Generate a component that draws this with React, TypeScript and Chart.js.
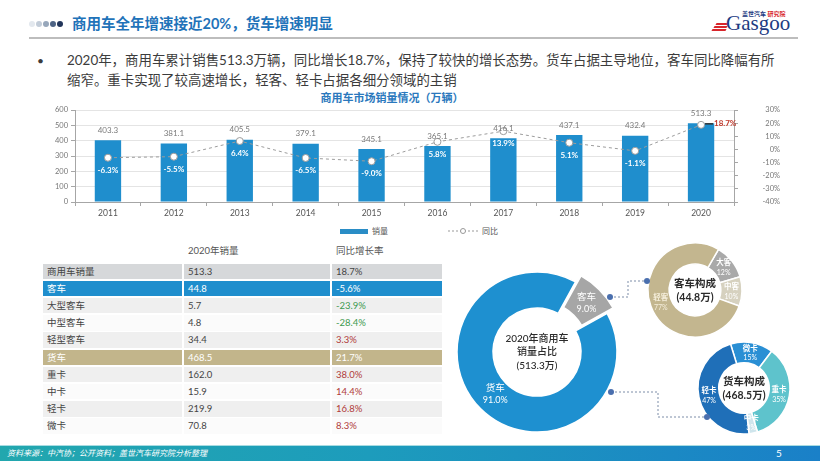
import React, { useEffect, useRef } from 'react';
import { Chart, registerables } from 'chart.js';

Chart.register(...registerables);

const FONT = 'Lato, "Noto Sans CJK SC", sans-serif';

// ---------- data ----------
const years = ['2011', '2012', '2013', '2014', '2015', '2016', '2017', '2018', '2019', '2020'];
const salesVolume = [403.3, 381.1, 405.5, 379.1, 345.1, 365.1, 416.1, 437.1, 432.4, 513.3];
const yoyGrowth = [-6.3, -5.5, 6.4, -6.5, -9.0, 5.8, 13.9, 5.1, -1.1, 18.7];
const volumeTickValues = [0, 100, 200, 300, 400, 500, 600];
const growthTickValues = [-40, -30, -20, -10, 0, 10, 20, 30];

const tableHeaders = ['2020年销量', '同比增长率'];
const tableCategories = ['商用车销量', '客车', '大型客车', '中型客车', '轻型客车', '货车', '重卡', '中卡', '轻卡', '微卡'];
const tableVolumes = [513.3, 44.8, 5.7, 4.8, 34.4, 468.5, 162.0, 15.9, 219.9, 70.8];
const tableGrowth = [18.7, -5.6, -23.9, -28.4, 3.3, 21.7, 38.0, 14.4, 16.8, 8.3];

const shareLabels = ['货车', '客车'];
const shareValues = [91.0, 9.0];
const busLabels = ['大客', '中客', '轻客'];
const busShares = [12, 10, 77];
const truckLabels = ['微卡', '重卡', '中卡', '轻卡'];
const truckShares = [15, 35, 3, 47];

// ---------- styles ----------
const BAR_BLUE = '#1f8ecd';
const AXIS_GRAY = '#a6a6a6';
const headerDots = ['#e3e8ee', '#c2ccd8', '#97a7bb', '#4d6384', '#22355a'];

function ComboChart() {
  const ref = useRef<HTMLCanvasElement>(null);
  useEffect(() => {
    const labelPlugin = {
      id: 'comboLabels',
      afterDatasetsDraw(chart: any) {
        const ctx = chart.ctx;
        const barMeta = chart.getDatasetMeta(1);
        const lineMeta = chart.getDatasetMeta(0);
        ctx.save();
        ctx.textAlign = 'center';
        ctx.textBaseline = 'middle';
        ctx.font = `8px ${FONT}`;
        ctx.fillStyle = '#7a7a7a';
        barMeta.data.forEach((b: any, i: number) => {
          ctx.fillText(salesVolume[i].toFixed(1), b.x, b.y - 10);
        });
        lineMeta.data.forEach((pt: any, i: number) => {
          const t = yoyGrowth[i].toFixed(1) + '%';
          if (i === yoyGrowth.length - 1) {
            ctx.strokeStyle = '#333';
            ctx.lineWidth = 1.5;
            ctx.beginPath();
            ctx.moveTo(pt.x + 4, pt.y - 1);
            ctx.lineTo(pt.x + 12, pt.y - 1);
            ctx.stroke();
            ctx.font = `bold 8px ${FONT}`;
            ctx.fillStyle = '#c0392b';
            ctx.textAlign = 'left';
            ctx.fillText(t, pt.x + 13, pt.y - 1);
            ctx.textAlign = 'center';
          } else {
            ctx.font = `bold 8px ${FONT}`;
            ctx.fillStyle = '#ffffff';
            ctx.fillText(t, pt.x, pt.y + 12.5);
          }
        });
        ctx.restore();
      },
    };
    const chart = new Chart(ref.current as HTMLCanvasElement, {
      type: 'bar',
      data: {
        labels: years,
        datasets: [
          {
            type: 'line',
            label: '同比',
            data: yoyGrowth,
            yAxisID: 'y1',
            borderColor: '#9c9c9c',
            borderWidth: 1,
            borderDash: [3, 3],
            pointRadius: 3.5,
            pointBackgroundColor: '#ffffff',
            pointBorderColor: '#9c9c9c',
            pointBorderWidth: 1,
            tension: 0,
            order: 1,
          } as any,
          {
            type: 'bar',
            label: '销量',
            data: salesVolume,
            yAxisID: 'y',
            backgroundColor: BAR_BLUE,
            barPercentage: 0.4,
            categoryPercentage: 1,
            order: 2,
          } as any,
        ],
      },
      options: {
        responsive: false,
        animation: false,
        events: [],
        layout: { padding: { top: 8, left: 0, right: 0, bottom: 0 } },
        plugins: { legend: { display: false }, tooltip: { enabled: false } },
        scales: {
          x: {
            grid: { offset: true, drawOnChartArea: false, drawTicks: true, tickLength: 4, color: AXIS_GRAY },
            border: { color: AXIS_GRAY },
            ticks: { font: { size: 8.5, family: FONT }, color: '#555', padding: 2 },
            afterFit: (s: any) => { s.height = 20; },
          },
          y: {
            position: 'left',
            min: volumeTickValues[0],
            max: volumeTickValues[volumeTickValues.length - 1],
            afterBuildTicks: (s: any) => { s.ticks = volumeTickValues.map((v) => ({ value: v })); },
            ticks: { font: { size: 7.5, family: FONT }, color: '#777', padding: 3 },
            grid: { color: '#e4e4e4', tickLength: 4, tickColor: AXIS_GRAY },
            border: { color: AXIS_GRAY },
            afterFit: (s: any) => { s.width = 55; },
          },
          y1: {
            position: 'right',
            min: growthTickValues[0],
            max: growthTickValues[growthTickValues.length - 1],
            afterBuildTicks: (s: any) => { s.ticks = growthTickValues.map((v) => ({ value: v })); },
            ticks: {
              font: { size: 7.5, family: FONT },
              color: '#777',
              padding: 3,
              crossAlign: 'far',
              callback: (v: any) => `${v}%`,
            },
            grid: { drawOnChartArea: false, tickLength: 4, color: AXIS_GRAY },
            border: { color: AXIS_GRAY },
            afterFit: (s: any) => { s.width = 46; },
          },
        },
      } as any,
      plugins: [labelPlugin],
    });
    return () => chart.destroy();
  }, []);
  return (
    <canvas
      ref={ref}
      width={760}
      height={120}
      style={{ position: 'absolute', left: 20, top: 102, width: 760, height: 120 }}
    />
  );
}

type DProps = {
  left: number;
  top: number;
  size: number;
  radius: number;
  cutout: string;
  labels: string[];
  values: number[];
  colors: string[];
  rotation: number;
  offsets?: number[];
  labelShift?: number[];
  labelColors: string[];
  fontSize: number;
  pctFontSize: number;
  bold: boolean;
  fmt: (v: number) => string;
};

function Doughnut(p: DProps) {
  const ref = useRef<HTMLCanvasElement>(null);
  useEffect(() => {
    const plugin = {
      id: 'sliceLabels',
      afterDatasetsDraw(chart: any) {
        const ctx = chart.ctx;
        const meta = chart.getDatasetMeta(0);
        ctx.save();
        ctx.textAlign = 'center';
        ctx.textBaseline = 'middle';
        meta.data.forEach((arc: any, i: number) => {
          const { startAngle, endAngle, innerRadius, outerRadius, x, y } = arc.getProps(
            ['startAngle', 'endAngle', 'innerRadius', 'outerRadius', 'x', 'y'],
            true
          );
          const mid = (startAngle + endAngle) / 2;
          const r = (innerRadius + outerRadius) / 2 + (p.labelShift ? p.labelShift[i] : 0);
          const cx = x + Math.cos(mid) * r;
          const cy = y + Math.sin(mid) * r;
          ctx.fillStyle = p.labelColors[i];
          ctx.font = `${p.bold ? 'bold ' : ''}${p.fontSize}px ${FONT}`;
          ctx.fillText(p.labels[i], cx, cy - p.fontSize * 0.62);
          ctx.font = `${p.pctFontSize}px ${FONT}`;
          ctx.fillText(p.fmt(p.values[i]), cx, cy + p.fontSize * 0.68);
        });
        ctx.restore();
      },
    };
    const chart = new Chart(ref.current as HTMLCanvasElement, {
      type: 'doughnut',
      data: {
        labels: p.labels,
        datasets: [
          {
            data: p.values,
            backgroundColor: p.colors,
            borderColor: '#ffffff',
            borderWidth: 1.5,
            offset: p.offsets || 0,
          } as any,
        ],
      },
      options: {
        responsive: false,
        animation: false,
        events: [],
        radius: p.radius,
        cutout: p.cutout,
        rotation: p.rotation,
        layout: { padding: 0 },
        plugins: { legend: { display: false }, tooltip: { enabled: false } },
      } as any,
      plugins: [plugin],
    });
    return () => chart.destroy();
  }, []);
  return (
    <canvas
      ref={ref}
      width={p.size}
      height={p.size}
      style={{ position: 'absolute', left: p.left, top: p.top, width: p.size, height: p.size }}
    />
  );
}

function CenterText({ x, y, lines, size, lh, weight }: { x: number; y: number; lines: string[]; size: number; lh: number; weight: number }) {
  const h = lines.length * lh;
  return (
    <div
      style={{
        position: 'absolute',
        left: x - 50,
        top: y - h / 2,
        width: 100,
        textAlign: 'center',
        fontSize: size,
        lineHeight: `${lh}px`,
        color: '#2b2b2b',
        fontWeight: weight,
        whiteSpace: 'nowrap',
      }}
    >
      {lines.map((l, i) => (
        <div key={i}>{l}</div>
      ))}
    </div>
  );
}

function Table() {
  const top0 = 263.5;
  const pitch = 17.2;
  const cols = [
    { left: 43, width: 139 },
    { left: 184, width: 146 },
    { left: 332, width: 110 },
  ];
  const rowBg = (i: number) => {
    if (i === 0) return '#d6d8da';
    if (i === 1) return BAR_BLUE;
    if (i === 5) return '#c2b58b';
    return i % 2 === 0 ? '#efefef' : '#fbfbfb';
  };
  const textColor = (i: number, c: number) => {
    if (i === 1 || i === 5) return '#ffffff';
    if (c === 2 && i !== 0) return tableGrowth[i] < 0 ? '#3d9a50' : '#b03a3a';
    return '#444';
  };
  return (
    <>
      <div style={{ position: 'absolute', left: cols[1].left + 4, top: 244, fontSize: 9.5, lineHeight: '14px', color: '#555' }}>
        {tableHeaders[0]}
      </div>
      <div style={{ position: 'absolute', left: cols[2].left + 4, top: 244, fontSize: 9.5, lineHeight: '14px', color: '#555' }}>
        {tableHeaders[1]}
      </div>
      {tableCategories.map((cat, i) => {
        const cells = [cat, tableVolumes[i].toFixed(1), tableGrowth[i].toFixed(1) + '%'];
        return cells.map((txt, c) => (
          <div
            key={`${i}-${c}`}
            style={{
              position: 'absolute',
              left: cols[c].left,
              top: top0 + i * pitch,
              width: cols[c].width,
              height: 15.5,
              background: rowBg(i),
              color: textColor(i, c),
              fontSize: 9.5,
              lineHeight: '15.5px',
              paddingLeft: 4,
              boxSizing: 'border-box',
              whiteSpace: 'nowrap',
            }}
          >
            {txt}
          </div>
        ));
      })}
    </>
  );
}

export default function App() {
  return (
    <div
      style={{
        position: 'absolute',
        left: 0,
        top: 0,
        width: 820,
        height: 461,
        overflow: 'hidden',
        background: '#ffffff',
        fontFamily: FONT,
      }}
    >
      {/* header dots */}
      {headerDots.map((c, i) => (
        <div
          key={i}
          style={{ position: 'absolute', left: 29 + i * 7, top: 21, width: 6, height: 6, borderRadius: 3, background: c }}
        />
      ))}
      <div style={{ position: 'absolute', left: 72, top: 14, fontSize: 14.5, lineHeight: '20px', fontWeight: 700, color: '#1f73b9', whiteSpace: 'nowrap' }}>
        商用车全年增速接近20%，货车增速明显
      </div>
      <div style={{ position: 'absolute', left: 29, top: 37, width: 769, height: 2, background: '#bdbdbd' }} />

      {/* logo */}
      <div style={{ position: 'absolute', left: 716, top: 23, width: 12, height: 2, background: '#d8262b', transform: 'skewX(-30deg)' }} />
      <div style={{ position: 'absolute', left: 714, top: 26, width: 13, height: 2, background: '#d8262b', transform: 'skewX(-30deg)' }} />
      <div style={{ position: 'absolute', left: 712, top: 29, width: 14, height: 2, background: '#d8262b', transform: 'skewX(-30deg)' }} />
      <div style={{ position: 'absolute', left: 742, top: 10, fontSize: 6, lineHeight: '8px', color: '#1d3b82', fontWeight: 700, whiteSpace: 'nowrap' }}>
        盖世汽车 <span style={{ color: '#d8262b' }}>研究院</span>
      </div>
      <div style={{ position: 'absolute', left: 726, top: 12, fontSize: 21, lineHeight: '22px', color: '#1d3b82', fontFamily: '"Liberation Serif", "DejaVu Serif", serif', whiteSpace: 'nowrap' }}>
        Gasgoo
      </div>

      {/* bullet text */}
      <div style={{ position: 'absolute', left: 37, top: 51, fontSize: 12, lineHeight: '20px', color: '#3c3c3c' }}>•</div>
      <div style={{ position: 'absolute', left: 67, top: 51, fontSize: 13.45, lineHeight: '19.5px', color: '#3c3c3c', whiteSpace: 'nowrap' }}>
        2020年，商用车累计销售513.3万辆，同比增长18.7%，保持了较快的增长态势。货车占据主导地位，客车同比降幅有所
        <br />
        缩窄。重卡实现了较高速增长，轻客、轻卡占据各细分领域的主销
      </div>

      {/* chart title */}
      <div style={{ position: 'absolute', left: 292, top: 91, width: 200, textAlign: 'center', fontSize: 11, lineHeight: '14px', fontWeight: 700, color: '#2a78bd', whiteSpace: 'nowrap' }}>
        商用车市场销量情况（万辆）
      </div>

      <ComboChart />

      {/* legend */}
      <div style={{ position: 'absolute', left: 340, top: 229, width: 28, height: 5, background: '#2a8dc6' }} />
      <div style={{ position: 'absolute', left: 372, top: 225, fontSize: 8, lineHeight: '12px', color: '#555' }}>销量</div>
      <svg style={{ position: 'absolute', left: 446, top: 226 }} width={34} height={10}>
        <line x1={2} y1={5} x2={32} y2={5} stroke="#999" strokeWidth={1} strokeDasharray="2 2" />
        <circle cx={17} cy={5} r={2.5} fill="#fff" stroke="#999" strokeWidth={1} />
      </svg>
      <div style={{ position: 'absolute', left: 482, top: 225, fontSize: 8, lineHeight: '12px', color: '#555' }}>同比</div>

      <Table />

      {/* doughnuts */}
      <Doughnut
        left={437}
        top={252}
        size={200}
        radius={80}
        cutout="55%"
        labels={shareLabels}
        values={shareValues}
        colors={['#1e90d0', '#a6a6a6']}
        rotation={61.2}
        offsets={[0, 22]}
        labelShift={[-3, 8]}
        labelColors={['#ffffff', '#ffffff']}
        fontSize={9.5}
        pctFontSize={9}
        bold={false}
        fmt={(v) => v.toFixed(1) + '%'}
      />
      <Doughnut
        left={640}
        top={235}
        size={110}
        radius={47}
        cutout="55%"
        labels={busLabels}
        values={busShares}
        colors={['#a9a9a9', '#d6d1bf', '#c3b68f']}
        rotation={30}
        labelColors={['#ffffff', '#ffffff', '#f5eedb']}
        fontSize={7.5}
        pctFontSize={7}
        bold={true}
        fmt={(v) => v + '%'}
      />
      <Doughnut
        left={689}
        top={333}
        size={110}
        radius={46}
        cutout="55%"
        labels={truckLabels}
        values={truckShares}
        colors={['#2a8fd4', '#5ec3cc', '#cfe5ec', '#1f6fb8']}
        rotation={-17}
        labelColors={['#ffffff', '#ffffff', '#ffffff', '#ffffff']}
        fontSize={7.5}
        pctFontSize={7}
        bold={true}
        fmt={(v) => v + '%'}
      />
      <CenterText x={537} y={352} lines={['2020年商用车', '销量占比', '(513.3万)']} size={10} lh={13.5} weight={500} />
      <CenterText x={695} y={290} lines={['客车构成', '(44.8万)']} size={10.5} lh={14} weight={700} />
      <CenterText x={744} y={388.5} lines={['货车构成', '(468.5万)']} size={10.5} lh={13.5} weight={700} />

      {/* connectors */}
      <svg style={{ position: 'absolute', left: 0, top: 0 }} width={820} height={461}>
        <polyline points="610,297 628,297 628,281 647,281" fill="none" stroke="#7d8da8" strokeWidth={1} strokeDasharray="2 2" />
        <polyline points="611,392 658,392 658,417 707,417" fill="none" stroke="#7d8da8" strokeWidth={1} strokeDasharray="2 2" />
        <circle cx={610} cy={297} r={3} fill="#4a6fae" />
        <circle cx={647} cy={281} r={3} fill="#4a6fae" />
        <circle cx={611} cy={392} r={3} fill="#4a6fae" />
        <circle cx={707} cy={417} r={3} fill="#4a6fae" />
      </svg>

      {/* footer */}
      <div style={{ position: 'absolute', left: 0, top: 445, width: 820, height: 1, background: '#a8dce2' }} />
      <div style={{ position: 'absolute', left: 0, top: 446, width: 820, height: 15, background: 'linear-gradient(90deg, #22a7ae 0%, #1d9cbc 45%, #1a80c8 100%)' }} />
      <div style={{ position: 'absolute', left: 7, top: 447, fontSize: 8, lineHeight: '13px', color: '#ffffff', fontStyle: 'italic', whiteSpace: 'nowrap' }}>
        资料来源：中汽协；公开资料；盖世汽车研究院分析整理
      </div>
      <div style={{ position: 'absolute', left: 776, top: 446, fontSize: 10, lineHeight: '14px', color: '#ffffff' }}>5</div>
    </div>
  );
}
